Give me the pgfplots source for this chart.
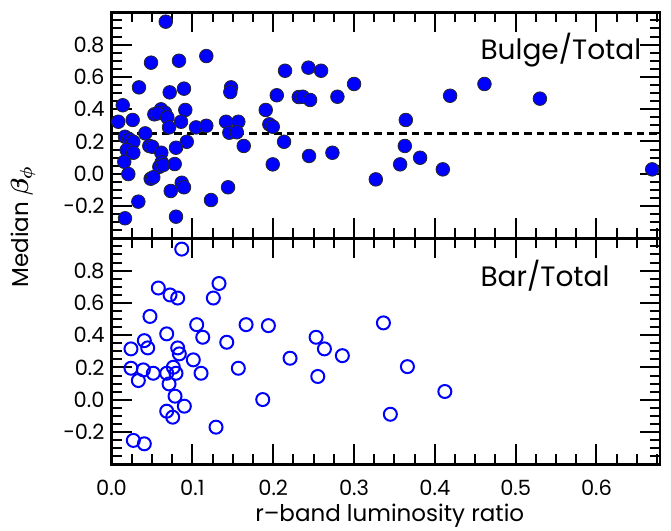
\documentclass[border=0pt]{standalone}
\usepackage{amsmath}
\usepackage{pgfplots}
\pgfplotsset{compat=1.18}
\usepackage{fontspec}
\setmainfont{Poppins}
\definecolor{ptblue}{RGB}{0,0,255}
\begin{document}
\begin{tikzpicture}
\path[use as bounding box] (0,0) rectangle (671pt,530pt);
\pgfplotsset{panel/.style={
  scale only axis, width=548.5pt, height=226pt,
  xmin=0, xmax=0.6786, ymin=-0.4, ymax=1.0,
  clip=false,
  xtick={0,0.1,0.2,0.3,0.4,0.5,0.6},
  minor xtick={0.025,0.05,0.075,0.125,0.15,0.175,0.225,0.25,0.275,0.325,0.35,0.375,0.425,0.45,0.475,0.525,0.55,0.575,0.625,0.65,0.675},
  ytick={-0.2,0,0.2,0.4,0.6,0.8},
  minor ytick={-0.35,-0.3,-0.25,-0.15,-0.1,-0.05,0.05,0.1,0.15,0.25,0.3,0.35,0.45,0.5,0.55,0.65,0.7,0.75,0.85,0.9,0.95},
  yticklabels={−0.2,0.0,0.2,0.4,0.6,0.8},
  tick align=inside,
  major tick length=20pt, minor tick length=10pt,
  tick style={black, line width=2pt},
  axis line style={black, line width=2.5pt},
  tick label style={font=\fontsize{21}{21}\selectfont},
  yticklabel style={xshift=-3.5pt},
  xticklabel style={yshift=-12pt},
}}
% ---------- top panel: Bulge/Total ----------
\begin{axis}[panel, at={(111.5pt,291.7pt)}, anchor=south west, xticklabels={}]
\addplot[only marks, mark=*, mark size=6.8pt,
  mark options={fill=ptblue, draw=black!85, line width=0.8pt}] coordinates {
(0.0671,0.942) (0.0489,0.688) (0.0835,0.700) (0.1173,0.729) (0.2147,0.638)
(0.0340,0.535) (0.0720,0.504) (0.0897,0.527) (0.1479,0.535) (0.1470,0.506)
(0.2045,0.486) (0.2317,0.475) (0.0139,0.424) (0.1908,0.395) (0.0913,0.395)
(0.0530,0.368) (0.0613,0.399) (0.0662,0.378) (0.0572,0.374) (0.0691,0.349)
(0.0084,0.322) (0.0262,0.333) (0.0712,0.287) (0.0860,0.322) (0.1046,0.287)
(0.1173,0.297) (0.1417,0.322) (0.1569,0.322) (0.1458,0.254) (0.1550,0.257)
(0.1953,0.306) (0.1995,0.291) (0.0418,0.250) (0.0167,0.229) (0.0220,0.213)
(0.0270,0.198) (0.0931,0.198) (0.2135,0.198) (0.0468,0.172) (0.0505,0.167)
(0.0798,0.161) (0.1636,0.172) (0.0188,0.147) (0.0270,0.130) (0.0616,0.130)
(0.0158,0.074) (0.0621,0.071) (0.0592,0.043) (0.0641,0.054) (0.0782,0.060)
(0.1995,0.058) (0.0208,-0.002) (0.0485,-0.031) (0.0517,-0.022) (0.0869,-0.056)
(0.0897,-0.084) (0.0733,-0.107) (0.1442,-0.084) (0.0332,-0.173) (0.1231,-0.163)
(0.0167,-0.276) (0.0798,-0.266)
(0.2436,0.657) (0.2593,0.638) (0.3001,0.556) (0.4614,0.556) (0.2366,0.477)
(0.2457,0.457) (0.2795,0.477) (0.4189,0.483) (0.5300,0.465) (0.3641,0.333)
(0.2444,0.110) (0.2733,0.130) (0.3629,0.172) (0.3571,0.058) (0.3818,0.099)
(0.4099,0.027) (0.3270,-0.035) (0.6689,0.027)
};
\addplot[black, line width=3.5pt, dash pattern=on 7.5pt off 5pt] coordinates {(0,0.25) (0.6786,0.25)};
\node[anchor=base west, font=\fontsize{28}{28}\selectfont] at (rel axis cs:0.6664,0.793) {Bulge/Total};
\end{axis}
% ---------- bottom panel: Bar/Total ----------
\begin{axis}[panel, at={(111.5pt,65.7pt)}, anchor=south west,
  xticklabels={0.0,0.1,0.2,0.3,0.4,0.5,0.6},
  xlabel={r–band luminosity ratio},
  xlabel style={font=\fontsize{23}{23}\selectfont, at={(axis description cs:0.5,0)}, anchor=base, xshift=4pt, yshift=-57.5pt}]
\addplot[only marks, mark=o, mark size=6.5pt,
  mark options={draw=ptblue, line width=2pt}] coordinates {
(0.0869,0.933) (0.0579,0.692) (0.0724,0.649) (0.0819,0.630) (0.1330,0.720)
(0.1260,0.630) (0.0476,0.516) (0.1054,0.465) (0.1665,0.465) (0.1941,0.459)
(0.0683,0.408) (0.1129,0.387) (0.1426,0.356) (0.0406,0.366) (0.0448,0.321)
(0.0241,0.315) (0.0819,0.321) (0.0839,0.284) (0.1012,0.247) (0.2209,0.257)
(0.0241,0.195) (0.0394,0.185) (0.0517,0.164) (0.0683,0.164) (0.0765,0.201)
(0.0798,0.164) (0.1108,0.164) (0.1569,0.195) (0.0332,0.119) (0.0712,0.098)
(0.0786,0.022) (0.1871,0.001) (0.0683,-0.071) (0.0901,-0.040) (0.0757,-0.108)
(0.1293,-0.170) (0.0270,-0.252) (0.0406,-0.273)
(0.3364,0.476) (0.2531,0.387) (0.2634,0.315) (0.2856,0.273) (0.2552,0.144)
(0.3661,0.205) (0.4124,0.051) (0.3450,-0.090)
};
\node[anchor=base west, font=\fontsize{28}{28}\selectfont] at (rel axis cs:0.6664,0.786) {Bar/Total};
\end{axis}
\node[rotate=90, font=\fontsize{23}{23}\selectfont] at (23pt,303pt) {Median {\boldmath$\beta_{\phi}$}};
\end{tikzpicture}
\end{document}
